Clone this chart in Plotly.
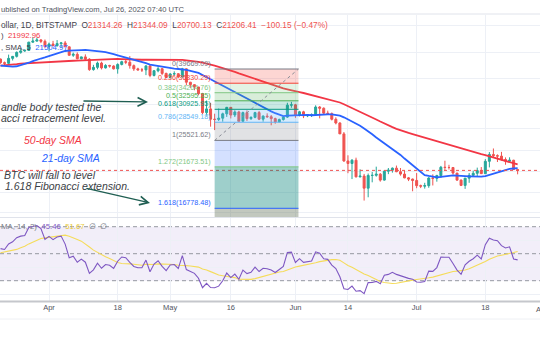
import math
import pandas as pd
import plotly.graph_objects as go

W, H = 540, 340
FONT = "Liberation Sans, Arial, sans-serif"

# ---------------- data ----------------
# closes Jan 29 - Mar 19 2022 (only used to warm up the moving averages / RSI)
warmup_start = "2022-01-29"
warmup_closes = [38170, 37920, 38480, 38740, 36950, 37150, 41500, 41440, 42410, 43840,
                 44120, 44340, 43570, 42410, 42240, 42200, 42590, 44580, 43960, 40540,
                 40030, 40120, 38430, 37070, 38290, 37300, 38330, 39230, 39140, 37710,
                 43190, 44350, 43920, 42450, 39150, 39400, 38420, 38060, 38740, 41980,
                 39440, 38790, 38810, 37790, 39670, 39340, 41140, 40950, 41800, 42190]

start_date = "2022-03-20"   # first visible daily candle (through Jul 26)
opens = [
    42190, 41250, 41080, 42360, 42890, 43960, 44350, 44500, 46820, 47130, 47470, 47070,
    45540, 46280, 45810, 46400, 46600, 45500, 43170, 43440, 42250, 42750, 42160, 39520, 40070, 41150, 39940,
    40550, 40400, 39700, 40800, 41500, 41370, 40500, 39700, 39450, 39450, 40430, 38120, 39240, 39740, 38600,
    37640, 38470, 38530, 37750, 39700, 36560, 36010, 35500, 34060, 30300, 31000, 29100, 29050, 29280, 30080,
    31300, 29860, 30420, 28720, 30300, 29200, 29430, 30300, 29100, 29650, 29540, 29200, 28600, 29030, 29470, 31730,
    31790, 29800, 30450, 29700, 29860, 29910, 31370, 31130, 30200, 30110, 29080, 28420, 26570, 22480, 22130,
    22580, 20380, 20470, 19000, 20550, 20570, 20720, 19970, 21100, 21230, 21500, 21030, 20730, 20250, 20100,
    19930, 19300, 19240, 19300, 20230, 20190, 20540, 21620, 21590, 21590, 20860, 19970, 19330, 20210, 20570,
    20830, 21190, 20780, 22430, 23400, 23230, 23160, 22680, 22450, 22580, 21314.26]
highs = [
    42290, 41540, 43350, 42990, 44220, 44960, 44790, 46920, 48190, 48100, 47700, 47600,
    46700, 47200, 47420, 46880, 47170, 45500, 43900, 43970, 42800, 43420, 42400, 40700, 41530, 41500, 40860,
    40700, 40600, 41090, 41740, 42170, 42950, 40800, 39980, 39930, 40600, 40800, 39430, 40350, 39900, 38780,
    38650, 39100, 38650, 39950, 39820, 36630, 36110, 35500, 34230, 32650, 32180, 30100, 31070, 30290, 31390,
    31300, 30740, 30650, 30490, 30720, 29600, 30450, 30620, 29800, 30170, 29860, 29370, 29200, 29550, 32200, 32380,
    31970, 30630, 30640, 29960, 30150, 31700, 31550, 31300, 30670, 30330, 29430, 28540, 26880, 23280, 22730,
    22940, 21350, 20750, 20800, 21000, 21700, 20860, 21200, 21520, 21590, 21850, 21520, 21180, 20360, 20160,
    20860, 19420, 19640, 20340, 20690, 20640, 21800, 22510, 21950, 21600, 20870, 20050, 20250, 20870, 21180,
    21570, 21650, 22740, 23750, 24280, 23410, 23780, 22980, 22990, 22640, 21344.09]
lows = [
    40960, 40530, 40890, 41810, 42580, 43580, 44100, 44430, 46650, 46950, 46550, 45220,
    44250, 45700, 45560, 45140, 45390, 43130, 42750, 42130, 42130, 41900, 39220, 39270, 39590, 39560, 39790,
    40000, 39550, 38540, 40560, 40880, 39760, 39200, 39300, 38940, 38200, 37700, 37890, 38880, 38190, 37590,
    37400, 38050, 37510, 37700, 35860, 35270, 34790, 33720, 30040, 29750, 27780, 27200, 28760, 28650, 29510,
    29230, 29480, 28700, 28690, 28780, 28950, 29260, 28930, 28650, 29340, 28020, 28300, 28560, 28840, 29320, 31220,
    29330, 29600, 29290, 29470, 29490, 29880, 29240, 29870, 29980, 28870, 28180, 26560, 22350, 20840, 20100,
    20300, 20300, 17600, 17960, 19700, 20400, 19780, 19910, 20720, 20910, 20980, 20530, 20200, 19850, 18640,
    19000, 19010, 18950, 19050, 19320, 19780, 20250, 21200, 21320, 20660, 19880, 19250, 18920, 19640, 20400,
    20480, 20760, 20760, 21600, 23030, 22330, 22520, 21960, 22270, 21260, 20700.13]
closes = [
    41250, 41080, 42360, 42890, 43960, 44350, 44500, 46820, 47130, 47470, 47070, 45540,
    46280, 45810, 46400, 46600, 45500, 43170, 43440, 42250, 42750, 42160, 39520, 40070, 41150, 39940, 40550,
    40400, 39700, 40800, 41500, 41370, 40500, 39700, 39450, 39450, 40430, 38120, 39240, 39740, 38600, 37640,
    38470, 38530, 37750, 39700, 36560, 36010, 35500, 34060, 30300, 31000, 29100, 29050, 29280, 30080, 31300,
    29860, 30420, 28720, 30300, 29200, 29430, 30300, 29100, 29650, 29540, 29200, 28600, 29030, 29470, 31730, 31790,
    29800, 30450, 29700, 29860, 29910, 31370, 31130, 30200, 30110, 29080, 28420, 26570, 22480, 22130, 22580,
    20380, 20470, 19000, 20550, 20570, 20720, 19970, 21100, 21230, 21500, 21030, 20730, 20250, 20100, 19930,
    19300, 19240, 19300, 20230, 20190, 20540, 21620, 21590, 21590, 20860, 19970, 19330, 20210, 20570, 20830,
    21190, 20780, 22430, 23400, 23230, 23160, 22680, 22450, 22580, 21314.26, 21206.41]

# Fibonacci drawing
fib_x0, fib_x1 = "2022-05-12", "2022-06-01 18:00"
fib_low, fib_high = 25521.62, 39669.09
fib_levels = [0, 0.236, 0.382, 0.5, 0.618, 0.786, 1, 1.272, 1.618]
fib_colors = ["#787b86", "#f44336", "#81c784", "#4caf50", "#089981",
              "#64b5f6", "#787b86", "#81c784", "#2962ff"]
fib_fills = ["rgba(244,67,54,0.22)", "rgba(129,199,132,0.22)", "rgba(76,175,80,0.22)",
             "rgba(8,153,129,0.22)", "rgba(100,181,246,0.25)", "rgba(120,123,134,0.22)",
             "rgba(41,98,255,0.2)", "rgba(0,128,118,0.38)", "rgba(95,110,85,0.38)"]

# axis ticks
tick_dates = ["2022-04-01", "2022-04-18", "2022-05-01", "2022-05-16", "2022-06-01",
              "2022-06-14", "2022-07-01", "2022-07-18"]
tick_text = ["Apr", "18", "May", "16", "Jun", "14", "Jul", "18"]
price_grid = [52000, 43900, 37300, 31900, 27500, 24000, 21100, 18500, 16300]
rsi_grid = [20, 40, 60]
rsi_bands = [70, 50, 30]

assert len(opens) == len(highs) == len(lows) == len(closes) == 129

# ---------------- indicators ----------------
all_closes = pd.Series(warmup_closes + closes,
                       index=pd.date_range(warmup_start, periods=len(warmup_closes) + len(closes)))
sma50 = all_closes.rolling(50).mean()
sma21 = all_closes.rolling(21).mean()

def rma(vals, n):
    out = [float("nan")] * len(vals)
    acc = None
    for i, v in enumerate(vals):
        if i < n:
            continue
        if acc is None:
            acc = sum(vals[1:n + 1]) / n
        else:
            acc = (acc * (n - 1) + v) / n
        out[i] = acc
    return out

delta = all_closes.diff().fillna(0).tolist()
ups = [max(d, 0) for d in delta]
dns = [max(-d, 0) for d in delta]
ru, rd = rma(ups, 14), rma(dns, 14)
rsi = pd.Series([100 - 100 / (1 + u / d) if d == d and d > 0 else float("nan") for u, d in zip(ru, rd)],
                index=all_closes.index)
rsi_ma = rsi.rolling(14).mean()

nw = len(warmup_closes)
dates = all_closes.index[nw:]

# ---------------- figure ----------------
def py(p):
    return 1 - p / H

fig = go.Figure()
fig.add_trace(go.Candlestick(
    x=dates, open=opens, high=highs, low=lows, close=closes,
    increasing=dict(line=dict(color="#26a69a", width=1), fillcolor="#26a69a"),
    decreasing=dict(line=dict(color="#ef5350", width=1), fillcolor="#ef5350"),
    hoverinfo="skip", xaxis="x", yaxis="y", showlegend=False))
fig.add_trace(go.Scatter(x=dates, y=sma50.iloc[nw:], mode="lines",
                         line=dict(color="#f23645", width=1.8), hoverinfo="skip",
                         xaxis="x", yaxis="y", showlegend=False))
fig.add_trace(go.Scatter(x=dates, y=sma21.iloc[nw:], mode="lines",
                         line=dict(color="#2962ff", width=1.8), hoverinfo="skip",
                         xaxis="x", yaxis="y", showlegend=False))
fig.add_trace(go.Scatter(x=dates, y=rsi_ma.iloc[nw:], mode="lines",
                         line=dict(color="#f5dc5a", width=1.1), hoverinfo="skip",
                         xaxis="x2", yaxis="y2", showlegend=False))
fig.add_trace(go.Scatter(x=dates, y=rsi.iloc[nw:], mode="lines",
                         line=dict(color="#7e57c2", width=1.1), hoverinfo="skip",
                         xaxis="x2", yaxis="y2", showlegend=False))

shapes = []
# RSI background band and dashed levels
shapes.append(dict(type="rect", xref="x2 domain", yref="y2", x0=0, x1=1, y0=30, y1=70,
                   fillcolor="rgba(126,87,194,0.1)", line=dict(width=0), layer="below"))
for b in rsi_bands:
    shapes.append(dict(type="line", xref="x2 domain", yref="y2", x0=0, x1=1, y0=b, y1=b,
                       line=dict(color="#9598a1", width=1, dash="4px,3px"), layer="below"))
# last price dotted line
shapes.append(dict(type="line", xref="x domain", yref="y", x0=0, x1=1,
                   y0=closes[-1], y1=closes[-1], line=dict(color="#ef5350", width=1, dash="dot")))
# Fibonacci zones and levels
fib_prices = [fib_high - l * (fib_high - fib_low) for l in fib_levels]
bounds = fib_prices + [fib_high - 2.0 * (fib_high - fib_low)]
for i in range(len(fib_prices)):
    shapes.append(dict(type="rect", xref="x", yref="y", x0=fib_x0, x1=fib_x1,
                       y0=bounds[i], y1=bounds[i + 1], fillcolor=fib_fills[i],
                       line=dict(width=0), layer="above"))
for p, c in zip(fib_prices, fib_colors):
    shapes.append(dict(type="line", xref="x", yref="y", x0=fib_x0, x1=fib_x1, y0=p, y1=p,
                       line=dict(color=c, width=1), layer="above"))
shapes.append(dict(type="line", xref="x", yref="y", x0=fib_x0, x1=fib_x1, y0=fib_low, y1=fib_high,
                   line=dict(color="#8a8d96", width=1, dash="3px,3px"), layer="above"))
# separators
shapes.append(dict(type="line", xref="paper", yref="paper", x0=0, x1=1, y0=py(14), y1=py(14),
                   line=dict(color="#e0e3eb", width=1)))
shapes.append(dict(type="line", xref="paper", yref="paper", x0=0, x1=1, y0=py(217.5), y1=py(217.5),
                   line=dict(color="#e0e3eb", width=1)))
shapes.append(dict(type="line", xref="paper", yref="paper", x0=0, x1=1, y0=py(301.5), y1=py(301.5),
                   line=dict(color="#c5c7cc", width=2)))
shapes.append(dict(type="line", xref="paper", yref="paper", x0=0, x1=1, y0=py(319), y1=py(319),
                   line=dict(color="#eef0f4", width=1)))

ann = []
def txt(x, y, text, size=7.5, color="#434651", anchor="left"):
    ann.append(dict(xref="paper", yref="paper", x=x / W, y=py(y), text=text, showarrow=False,
                    xanchor=anchor, yanchor="middle", font=dict(size=size, color=color, family=FONT)))

dark = "#3f424c"
red = "#ef5350"
txt(-1, 9, "ublished on TradingView.com, Jul 26, 2022 07:40 UTC", 7.6, "#50535e")
txt(-1, 25, ("ollar, 1D, BITSTAMP  O<span style='color:%s'>21314.26</span>  H<span style='color:%s'>21344.09</span>"
             "  L<span style='color:%s'>20700.13</span>  C<span style='color:%s'>21206.41</span>"
             "  <span style='color:%s'>−100.15 (−0.47%%)</span>") % (red, red, red, red, red), 8.3, dark)
txt(-1, 36, ")  <span style='color:#f23645'>21992.96</span>", 7.8, dark)
txt(-1, 47.5, ", SMA, 5  <span style='color:#2962ff'>21504.97</span>", 7.8, dark)
txt(-1, 226, ("MA, 14, 2)  <span style='color:#7e57c2'>45.46</span>  <span style='color:#e8c93a'>51.67</span>"
              "  ∅  ∅"), 7.8, "#787b86")

ital = "#3b3e45"
txt(-1, 107, "<i>andle body tested the</i>", 10.5, ital)
txt(-1, 118, "<i>acci retracement level.</i>", 10.5, ital)
txt(53, 140, "<i>50-day SMA</i>", 10.5, "#f23645", "center")
txt(70, 158, "<i>21-day SMA</i>", 10.5, "#2962ff", "center")
txt(2, 175, "<i>BTC will fall to level</i>", 10.5, ital)
txt(3, 186, "<i>1.618 Fibonacci extension.</i>", 10.5, ital)

arrow_c = "#1f5e52"
ann.append(dict(xref="paper", yref="paper", x=148 / W, y=py(102), ax=-66, ay=-1,
                showarrow=True, arrowhead=5, arrowsize=1.3, arrowwidth=1.3, arrowcolor=arrow_c, text=""))
ann.append(dict(xref="paper", yref="paper", x=150 / W, y=py(203), ax=-65, ay=-15,
                showarrow=True, arrowhead=5, arrowsize=1.3, arrowwidth=1.3, arrowcolor=arrow_c, text=""))

for l, p, c in zip(fib_levels, fib_prices, fib_colors):
    ann.append(dict(xref="x", yref="y", x=fib_x0, y=math.log10(p), xanchor="right", yanchor="bottom",
                    xshift=-2, yshift=-1, showarrow=False, text="%s(%.2f)" % (l, p),
                    font=dict(size=7.2, color=c, family=FONT)))

ann.append(dict(xref="paper", yref="paper", x=542 / W, y=py(309), text="Aug", showarrow=False,
                xanchor="center", yanchor="middle", font=dict(size=7.5, color="#50535e", family=FONT)))

grid_c = "#edf0f6"
fig.update_layout(
    width=W, height=H, margin=dict(l=0, r=0, t=0, b=0),
    paper_bgcolor="white", plot_bgcolor="white", showlegend=False,
    shapes=shapes, annotations=ann,
    xaxis=dict(domain=[0, 1], anchor="y", type="date",
               range=["2022-03-19 20:54", "2022-07-31 12:50"],
               tickvals=tick_dates, showticklabels=False, showgrid=True, gridcolor=grid_c,
               zeroline=False, rangeslider=dict(visible=False), fixedrange=True, showline=False),
    xaxis2=dict(domain=[0, 1], anchor="y2", type="date", matches="x",
                tickvals=tick_dates, ticktext=tick_text, showgrid=True, gridcolor=grid_c,
                ticks="", tickfont=dict(size=7.5, color="#50535e", family=FONT),
                zeroline=False, showline=False, fixedrange=True),
    yaxis=dict(domain=[py(217.5), py(15)], anchor="x", type="log", range=[4.2001, 4.7433],
               tickvals=price_grid, showticklabels=False, showgrid=True, gridcolor=grid_c,
               zeroline=False, fixedrange=True),
    yaxis2=dict(domain=[py(301), py(217.5)], anchor="x2", range=[14.96, 76.81],
                tickvals=rsi_grid, showticklabels=False, showgrid=True, gridcolor=grid_c,
                zeroline=False, fixedrange=True),
)

fig.write_html("out.html")
